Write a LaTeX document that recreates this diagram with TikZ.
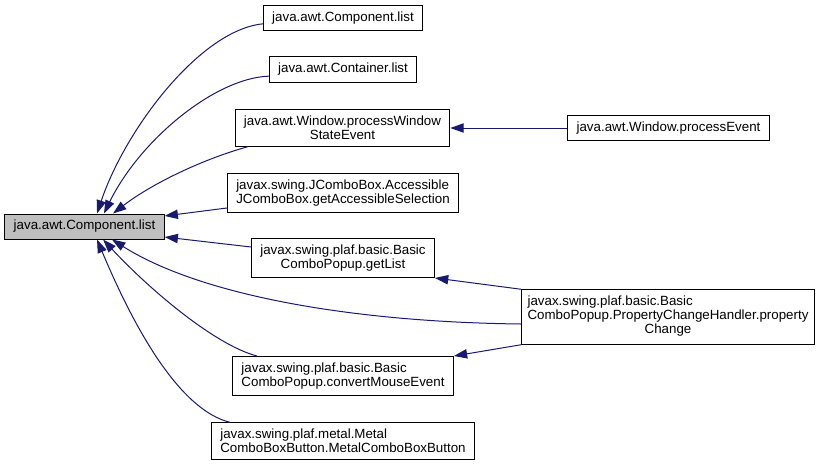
\documentclass[tikz,border=0pt]{standalone}
\usepackage{fontspec}
\setmainfont{Liberation Sans}
\usetikzlibrary{arrows.meta}

\definecolor{edgeblue}{RGB}{25,25,112}
\definecolor{focusgray}{RGB}{191,191,191}

\begin{document}
\begin{tikzpicture}[x=0.75pt, y=-0.75pt, >={Triangle[length=10pt, width=7pt]},
  fn/.style={draw=black, line width=0.75pt, fill=white, inner xsep=6.6pt, inner ysep=4.7pt,
    minimum height=18.75pt, font=\fontsize{10}{10.5}\selectfont},
  call/.style={->, draw=edgeblue, line width=0.75pt}]
  \useasboundingbox (0,0) rectangle (820,467);

  % the function and its callers
  \node[fn, fill=focusgray] (main) at (84.5,226.5) {java.awt.Component.list};
  \node[fn] (complist) at (343,18.5) {java.awt.Component.list};
  \node[fn] (contlist) at (343,69.5) {java.awt.Container.list};
  \node[fn, align=center] (winstate) at (342.5,128) {java.awt.Window.processWindow\\StateEvent};
  \node[fn] (winevent) at (668.5,128) {java.awt.Window.processEvent};
  \node[fn, align=left] (accsel) at (343,193) {javax.swing.JComboBox.Accessible\\JComboBox.getAccessibleSelection};
  \node[fn, align=center] (getlist) at (343,258) {javax.swing.plaf.basic.Basic\\ComboPopup.getList};
  \node[fn, inner xsep=4.6pt] (propchange) at (668,317)
    {\begin{tabular}{@{}l@{}}javax.swing.plaf.basic.Basic\\ComboPopup.PropertyChangeHandler.property\\\multicolumn{1}{@{}c@{}}{Change}\end{tabular}};
  \node[fn, align=left] (convmouse) at (343,376) {javax.swing.plaf.basic.Basic\\ComboPopup.convertMouseEvent};
  \node[fn, align=left] (metalbtn) at (343,441) {javax.swing.plaf.metal.Metal\\ComboBoxButton.MetalComboBoxButton};

  % calls
  \draw[call] ([yshift=-4pt]complist.west) .. controls (200,30) and (125,130) .. ([xshift=9.4pt]main.north);
  \draw[call] ([yshift=-5pt]contlist.west) .. controls (215,78) and (140,140) .. ([xshift=14.6pt]main.north);
  \draw[call] ([xshift=-70.9pt]winstate.south) .. controls (200,160) and (150,185) .. ([xshift=21.4pt]main.north);
  \draw[call] ([yshift=-11.25pt]accsel.west) -- ([yshift=7.9pt]main.east);
  \draw[call] ([yshift=8.25pt]getlist.west) -- ([yshift=-7.9pt]main.east);
  \draw[call] ([yshift=-5.25pt]propchange.west) .. controls (350,322) and (200,295) .. ([xshift=20.6pt]main.south);
  \draw[call] ([xshift=-64.5pt]convmouse.north) .. controls (215,345) and (150,290) .. ([xshift=13.9pt]main.south);
  \draw[call] ([xshift=-84.75pt]metalbtn.north) .. controls (180,410) and (135,330) .. ([xshift=9.4pt]main.south);

  \draw[call] (winevent) -- (winstate);
  \draw[call] (propchange.north west) -- (getlist.south east);
  \draw[call] (propchange.south west) -- (convmouse.north east);
\end{tikzpicture}
\end{document}
